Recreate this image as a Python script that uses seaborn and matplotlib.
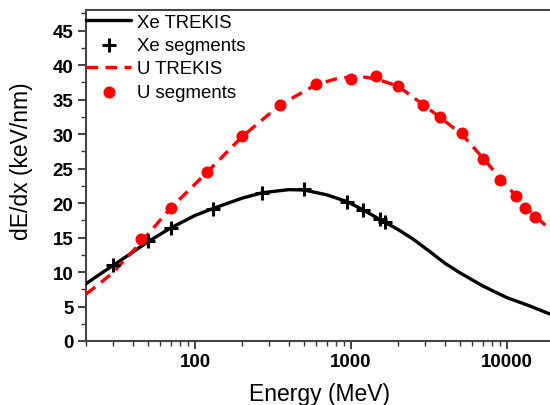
import numpy as np
import pandas as pd
import matplotlib
matplotlib.use("Agg")
import matplotlib.pyplot as plt
import seaborn as sns
from matplotlib.ticker import FixedLocator, LogLocator, NullFormatter, MultipleLocator

# ---- data ----
xe_curve_E = [20, 25, 30, 40, 50, 70, 100, 130, 200, 270, 400, 500, 700, 950, 1200,
              1600, 2000, 2500, 3200, 4000, 5000, 7000, 10000, 14000, 20000]
xe_curve_dedx = [8.3, 9.8, 11.0, 12.9, 14.4, 16.4, 18.2, 19.2, 20.7, 21.5, 21.95, 21.9,
                 21.2, 20.2, 19.0, 17.4, 16.2, 14.8, 13.0, 11.3, 9.9, 8.0, 6.3, 5.1, 3.7]
xe_seg_E = [30, 50, 70, 130, 270, 500, 950, 1200, 1550, 1650]
xe_seg_dedx = [11.0, 14.5, 16.35, 19.2, 21.5, 22.0, 20.2, 19.0, 17.75, 17.3]

u_curve_E = [20, 25, 30, 45, 70, 120, 200, 350, 600, 800, 1000, 1200, 1450, 2000, 2900,
             3750, 5200, 7000, 9100, 11500, 13200, 15300, 20000]
u_curve_dedx = [6.8, 8.5, 10.0, 14.3, 19.3, 24.5, 29.6, 34.2, 37.2, 38.0, 38.3, 38.3, 38.0,
                37.0, 34.3, 32.4, 29.9, 26.6, 23.6, 21.0, 19.5, 18.1, 15.7]
u_seg_E = [45, 70, 120, 200, 350, 600, 1000, 1450, 2000, 2900, 3750, 5200, 7000, 9100,
           11500, 13200, 15300]
u_seg_dedx = [14.8, 19.3, 24.5, 29.7, 34.2, 37.3, 38.0, 38.4, 37.0, 34.2, 32.5, 30.2, 26.4,
              23.4, 21.0, 19.3, 18.0]

x_ticks = [100, 1000, 10000]
x_tick_labels = ["100", "1000", "10000"]

sns.set_style("ticks")
plt.rcParams['font.family'] = ['Liberation Sans', 'DejaVu Sans']
plt.rcParams['text.color'] = 'black'
plt.rcParams['axes.labelcolor'] = 'black'
plt.rcParams['xtick.labelcolor'] = 'black'
plt.rcParams['ytick.labelcolor'] = 'black'

fig = plt.figure(figsize=(5.5, 4.06), dpi=100)
ax = fig.add_axes([86/550, 64/406, 467.6/550, 331/406])

sns.lineplot(x=xe_curve_E, y=xe_curve_dedx, ax=ax, color="black", lw=2.4,
             label="Xe TREKIS", sort=False, zorder=3)
sns.scatterplot(x=xe_seg_E, y=xe_seg_dedx, ax=ax, marker="+", s=110, color="black",
                linewidth=2.2, label="Xe segments", zorder=4)
sns.lineplot(x=u_curve_E, y=u_curve_dedx, ax=ax, color="#ff0000", lw=2.4,
             label="U TREKIS", sort=False, zorder=3)
ax.lines[-1].set_dashes([3.5, 2.2])
sns.scatterplot(x=u_seg_E, y=u_seg_dedx, ax=ax, marker="o", s=75, color="#ff0000",
                edgecolor="#ff0000", linewidth=0, label="U segments", zorder=4)

ax.set_xscale("log")
ax.set_xlim(20, 20000)
ax.set_ylim(0, 48)
ax.xaxis.set_major_locator(FixedLocator(x_ticks))
ax.set_xticklabels(x_tick_labels)
ax.xaxis.set_minor_locator(LogLocator(base=10, subs=np.arange(2, 10)))
ax.xaxis.set_minor_formatter(NullFormatter())
ax.yaxis.set_major_locator(MultipleLocator(5))
ax.yaxis.set_minor_locator(MultipleLocator(2.5))

for t in ax.get_xticklabels() + ax.get_yticklabels():
    t.set_fontweight("bold")
    t.set_fontsize(13.5)
    t.set_color("black")
ax.tick_params(which="major", direction="out", length=6, width=1.3, color="#333333", pad=3)
ax.tick_params(which="minor", direction="out", length=3.5, width=1.0, color="#333333")

for s in ax.spines.values():
    s.set_linewidth(1.5)
    s.set_color("#444444")

ax.set_xlabel("Energy (MeV)", fontsize=16.5, labelpad=8, color="black")
ax.set_ylabel("dE/dx (keV/nm)", fontsize=16.5, labelpad=4, color="black")
ax.yaxis.set_label_coords(-0.113, 0.547)

leg = ax.legend(loc="upper left", frameon=False, fontsize=13.4, handlelength=2.42,
                handletextpad=0.3, borderaxespad=0.0, borderpad=0.0,
                labelspacing=0.33, bbox_to_anchor=(0.0, 0.988))
for t in leg.get_texts():
    t.set_color("black")

fig.savefig("out.png", dpi=100)
